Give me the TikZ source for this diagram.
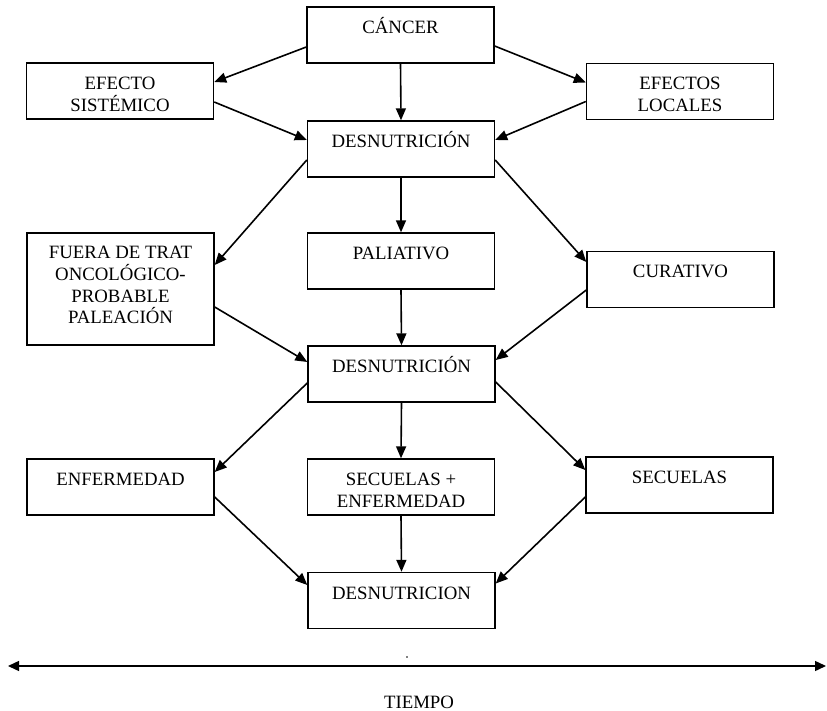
\documentclass[tikz,border=0pt]{standalone}
\usepackage{fontspec}
\setmainfont{Liberation Serif}
\usetikzlibrary{arrows.meta}
% strut that gives every first line the same height
\newcommand{\toprule}{\rule{0pt}{19pt}}
\begin{document}
\begin{tikzpicture}[x=1pt,y=-1pt,
  box/.style={draw,line width=1.4pt,minimum width=187pt,minimum height=56pt,
    align=center,inner sep=2pt,font=\fontsize{18.8}{22}\selectfont},
  link/.style={line width=1.6pt,-{Triangle[length=12pt,width=10pt]}}]
\useasboundingbox (0,0) rectangle (827,711);
% boxes
\node[box] (cancer) at (400.5,35) {\toprule CÁNCER\\~};
\node[box] (efs) at (120,91) {\toprule EFECTO\\SISTÉMICO};
\node[box] (efl) at (680,91.5) {\toprule EFECTOS\\LOCALES};
\node[box] (d1) at (401,149) {\toprule DESNUTRICIÓN\\~};
\node[box,minimum height=112pt,font=\fontsize{18.8}{21.8}\selectfont] (fuera) at (120.5,289)
  {FUERA DE TRAT\\ONCOLÓGICO-\\PROBABLE\\PALEACIÓN\rule[-8pt]{0pt}{8pt}};
\node[box] (pal) at (401,261) {\toprule PALIATIVO\\~};
\node[box] (cur) at (680.5,279.5) {\toprule CURATIVO\\~};
\node[box] (d2) at (401.5,374) {\toprule DESNUTRICIÓN\\~};
\node[box] (enf) at (120.5,487) {\toprule ENFERMEDAD\\~};
\node[box] (secenf) at (401,487) {\toprule SECUELAS +\\ENFERMEDAD};
\node[box] (sec) at (679.5,485) {\toprule SECUELAS\\~};
\node[box] (d3) at (401.5,600.5) {\toprule DESNUTRICION\\~};
% connectors
\draw[link] ([yshift=-12pt]cancer.west) -- ([yshift=9pt]efs.east);
\draw[link] ([yshift=-11pt]cancer.east) -- ([yshift=9pt]efl.west);
\draw[link] (cancer.south) -- (d1.north);
\draw[link] ([yshift=-11pt]efs.east) -- ([yshift=9pt]d1.west);
\draw[link] ([yshift=-10pt]efl.west) -- ([yshift=9pt]d1.east);
\draw[link] ([yshift=-11pt]d1.west) -- ([yshift=24pt]fuera.east);
\draw[link] (d1.south) -- (pal.north);
\draw[link] ([yshift=-11pt]d1.east) -- ([yshift=17.5pt]cur.west);
\draw[link] ([yshift=-18pt]fuera.east) -- ([yshift=12pt]d2.west);
\draw[link] (pal.south) -- (d2.north);
\draw[link] ([yshift=-10.5pt]cur.west) -- ([yshift=14pt]d2.east);
\draw[link] ([yshift=-9pt]d2.west) -- ([yshift=15pt]enf.east);
\draw[link] (d2.south) -- (secenf.north);
\draw[link] ([yshift=-8pt]d2.east) -- ([yshift=15pt]sec.west);
\draw[link] ([yshift=-10pt]enf.east) -- ([yshift=15.5pt]d3.west);
\draw[link] (secenf.south) -- (d3.north);
\draw[link] ([yshift=-12pt]sec.west) -- ([yshift=17pt]d3.east);
% time axis
\coordinate (tl) at (8,666);
\coordinate (tr) at (826,666);
\draw[line width=1.4pt,{Triangle[length=11pt,width=10pt]}-{Triangle[length=11pt,width=10pt]}] (tl) -- (tr);
\fill (407,657) circle (0.9pt);
\node[font=\fontsize{18.8}{22}\selectfont] (tiempo) at (419,702) {TIEMPO};
\end{tikzpicture}
\end{document}
